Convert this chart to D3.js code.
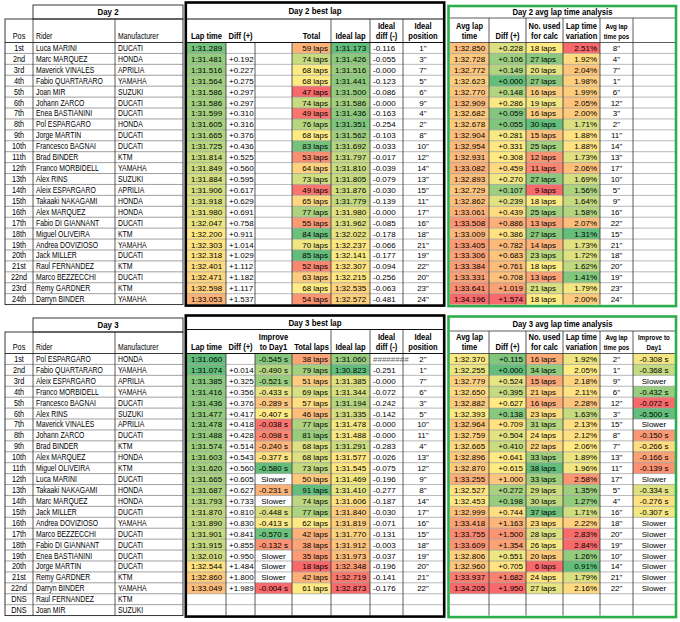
<!DOCTYPE html>
<html><head><meta charset="utf-8">
<script src="https://cdn.jsdelivr.net/npm/d3@7"></script>
<style>body{margin:0;background:#fff}svg{display:block}text{font-family:'Liberation Sans',Arial,sans-serif}</style>
</head><body><svg id="c" width="680" height="622"></svg>
<script>
// ---------------- DATA: Day 2 ----------------
const d2Pos = ["1st","2nd","3rd","4th","5th","6th","7th","8th","9th","10th","11th","12th","13th","14th","15th","16th","17th","18th","19th","20th","21st","22nd","23rd","24th"];
const d2Rider = ["Luca MARINI","Marc MARQUEZ","Maverick VINALES","Fabio QUARTARARO","Joan MIR","Johann ZARCO","Enea BASTIANINI","Pol ESPARGARO","Jorge MARTIN","Francesco BAGNAI","Brad BINDER","Franco MORBIDELL","Alex RINS","Aleix ESPARGARO","Takaaki NAKAGAMI","Alex MARQUEZ","Fabio DI GIANNANT","Miguel OLIVEIRA","Andrea DOVIZIOSO","Jack MILLER","Raul FERNANDEZ","Marco BEZZECCHI","Remy GARDNER","Darryn BINDER"];
const d2Manuf = ["DUCATI","HONDA","APRILIA","YAMAHA","SUZUKI","DUCATI","DUCATI","HONDA","DUCATI","DUCATI","KTM","YAMAHA","SUZUKI","APRILIA","HONDA","HONDA","DUCATI","KTM","YAMAHA","DUCATI","KTM","DUCATI","KTM","YAMAHA"];
const d2Lap = ["1:31.289","1:31.481","1:31.516","1:31.564","1:31.586","1:31.586","1:31.599","1:31.605","1:31.665","1:31.725","1:31.814","1:31.849","1:31.884","1:31.906","1:31.918","1:31.980","1:32.047","1:32.200","1:32.303","1:32.318","1:32.401","1:32.471","1:32.598","1:33.053"];
const d2Diff = ["","+0.192","+0.227","+0.275","+0.297","+0.297","+0.310","+0.316","+0.376","+0.436","+0.525","+0.560","+0.595","+0.617","+0.629","+0.691","+0.758","+0.911","+1.014","+1.029","+1.112","+1.182","+1.117","+1.537"];
const d2Total = [59,74,68,68,47,74,49,76,68,83,53,64,73,49,65,77,55,84,70,85,52,63,68,54];
const d2Ideal = ["1:31.173","1:31.426","1:31.516","1:31.441","1:31.500","1:31.586","1:31.436","1:31.351","1:31.562","1:31.692","1:31.797","1:31.810","1:31.805","1:31.876","1:31.779","1:31.980","1:31.962","1:32.022","1:32.237","1:32.141","1:32.307","1:32.215","1:32.535","1:32.572"];
const d2IdealDiff = ["-0.116","-0.055","-0.000","-0.123","-0.086","-0.000","-0.163","-0.254","-0.103","-0.033","-0.017","-0.039","-0.079","-0.030","-0.139","-0.000","-0.085","-0.178","-0.066","-0.177","-0.094","-0.256","-0.063","-0.481"];
const d2IdealPos = [1,3,7,5,6,9,4,2,8,10,12,14,13,15,11,17,16,18,21,19,22,20,23,24];
const d2Avg = ["1:32.850","1:32.728","1:32.772","1:32.623","1:32.770","1:32.909","1:32.682","1:32.678","1:32.904","1:32.954","1:32.931","1:33.082","1:32.893","1:32.729","1:32.862","1:33.061","1:33.508","1:33.009","1:33.405","1:33.306","1:33.384","1:33.331","1:33.641","1:34.196"];
const d2AvgDiff = [0.228,0.106,0.149,0.000,0.148,0.286,0.059,0.055,0.281,0.331,0.308,0.459,0.270,0.107,0.239,0.439,0.886,0.386,0.782,0.683,0.761,0.708,1.019,1.574];
const d2Used = [18,27,20,27,16,19,16,30,15,25,12,11,27,9,18,25,13,27,14,23,18,13,21,18];
const d2Var = [2.51,1.92,2.04,1.98,1.99,2.05,2.00,1.71,1.88,1.88,1.73,2.06,1.69,1.56,1.64,1.58,2.07,1.31,1.73,1.72,1.62,1.41,1.79,2.00];
const d2AvgPos = [8,4,7,1,6,12,3,2,11,14,13,17,10,5,9,16,22,15,21,18,20,19,23,24];

// ---------------- DATA: Day 3 ----------------
const d3Pos = ["1st","2nd","3rd","4th","5th","6th","7th","8th","9th","10th","11th","12th","13th","14th","15th","16th","17th","18th","19th","20th","21st","22nd","DNS","DNS"];
const d3Rider = ["Pol ESPARGARO","Fabio QUARTARARO","Aleix ESPARGARO","Franco MORBIDELL","Francesco BAGNAI","Alex RINS","Maverick VINALES","Johann ZARCO","Brad BINDER","Alex MARQUEZ","Miguel OLIVEIRA","Luca MARINI","Takaaki NAKAGAMI","Marc MARQUEZ","Jack MILLER","Andrea DOVIZIOSO","Marco BEZZECCHI","Fabio DI GIANNANT","Enea BASTIANINI","Jorge MARTIN","Remy GARDNER","Darryn BINDER","Raul FERNANDEZ","Joan MIR"];
const d3Manuf = ["HONDA","YAMAHA","APRILIA","YAMAHA","DUCATI","SUZUKI","APRILIA","DUCATI","KTM","HONDA","KTM","DUCATI","HONDA","HONDA","DUCATI","YAMAHA","DUCATI","DUCATI","DUCATI","DUCATI","KTM","YAMAHA","KTM","SUZUKI"];
const d3Lap = ["1:31.060","1:31.074","1:31.385","1:31.416","1:31.436","1:31.477","1:31.478","1:31.488","1:31.574","1:31.603","1:31.620","1:31.665","1:31.687","1:31.793","1:31.870","1:31.890","1:31.901","1:31.915","1:32.010","1:32.544","1:32.860","1:33.049"];
const d3Diff = ["","+0.014","+0.325","+0.356","+0.376","+0.417","+0.418","+0.428","+0.514","+0.543","+0.560","+0.605","+0.627","+0.733","+0.810","+0.830","+0.841","+0.855","+0.950","+1.484","+1.800","+1.989"];
const d3Improve = [-0.545,-0.490,-0.521,-0.433,-0.289,-0.407,-0.038,-0.098,-0.240,-0.377,-0.580,null,-0.231,null,-0.448,-0.413,-0.570,-0.132,null,null,null,-0.004];
const d3Total = [38,79,51,69,57,46,77,81,68,68,73,50,91,74,77,62,42,38,35,18,42,61];
const d3Ideal = ["1:31.060","1:30.823","1:31.385","1:31.344","1:31.194","1:31.335","1:31.478","1:31.488","1:31.291","1:31.577","1:31.545","1:31.469","1:31.410","1:31.606","1:31.840","1:31.819","1:31.770","1:31.912","1:31.973","1:32.348","1:32.719","1:32.873"];
const d3IdealDiff = ["########","-0.251","-0.000","-0.072","-0.242","-0.142","-0.000","-0.000","-0.283","-0.026","-0.075","-0.196","-0.277","-0.187","-0.030","-0.071","-0.131","-0.003","-0.037","-0.196","-0.141","-0.176"];
const d3IdealPos = [2,1,7,6,3,5,10,11,4,13,12,9,8,14,17,16,15,18,19,20,21,22];
const d3Avg = ["1:32.370","1:32.255","1:32.779","1:32.650","1:32.882","1:32.393","1:32.964","1:32.759","1:32.665","1:32.896","1:32.870","1:33.255","1:32.527","1:32.453","1:32.999","1:33.418","1:33.755","1:33.609","1:32.806","1:32.960","1:33.937","1:34.205"];
const d3AvgDiff = [0.115,0.000,0.524,0.395,0.627,0.138,0.709,0.504,0.410,0.641,0.615,1.000,0.272,0.198,0.744,1.163,1.500,1.354,0.551,0.705,1.682,1.950];
const d3Used = [16,34,15,21,16,23,31,24,22,33,38,33,29,30,37,23,28,26,20,6,24,27];
const d3Var = [1.92,2.05,2.18,2.11,2.28,1.63,2.13,2.12,2.06,1.89,1.96,2.58,1.35,1.27,1.71,2.22,2.83,2.84,1.26,0.91,1.79,2.16];
const d3AvgPos = [2,1,9,6,12,3,15,8,7,13,11,17,5,4,16,18,20,19,10,14,21,22];
const d3AvgImprove = [-0.308,-0.368,null,-0.432,-0.072,-0.500,null,-0.150,-0.266,-0.166,-0.139,null,-0.334,-0.276,-0.307,null,null,null,null,null,null,null];

// ---------------- HEADER LABELS ----------------
const leftHead = ["Pos","Rider","Manufacturer"];
const mid2Head = [["Lap time"],["Diff (+)"],[""],["Total"],["Ideal lap"],["Ideal","diff (-)"],["Ideal","position"]];
const mid3Head = [["Lap time"],["Diff (+)"],["Improve","to Day1"],["Total laps"],["Ideal lap"],["Ideal","diff (-)"],["Ideal","position"]];
const right2Head = [["Avg lap","time"],["Diff (+)"],["No. used","for calc"],["Lap time","variation"],["Avg lap","time pos"],[""]];
const right3Head = [["Avg lap","time"],["Diff (+)"],["No. used","for calc"],["Lap time","variation"],["Avg lap","time pos"],["Improve to","Day1"]];

// ---------------- STYLE ----------------
const GREEN = "#63BE7B", YELLOW = "#FFEB84", RED = "#F8696B";
const LEFT = [5, 33, 115, 183];
const MID = [187, 226, 255, 292, 331, 370, 403, 443];
const RIGHT = [450, 489, 526, 563, 600, 633, 675];
const FS = 8;

const toSec = s => { const p = s.split(":"); return +p[0] * 60 + +p[1]; };
function colorScale(vals, higherIsBetter) {
  const v = vals.filter(x => x != null);
  const [lo, hi] = d3.extent(v), med = d3.median(v);
  return d3.scaleLinear().domain([lo, med, hi])
    .range(higherIsBetter ? [RED, YELLOW, GREEN] : [GREEN, YELLOW, RED])
    .interpolate(d3.interpolateRgb).clamp(true);
}

const svg = d3.select("#c");

function section(S) {
  const g = svg.append("g");
  const y = d3.scaleBand().domain(d3.range(S.n)).range([S.rowTop, S.rowTop + S.n * S.rowH]);
  const yEnd = S.rowTop + S.n * S.rowH;

  function tbody(edges, cols, hStroke) {
    const gg = g.append("g");
    cols.forEach((c, ci) => {
      const x0 = edges[ci], x1 = edges[ci + 1];
      if (!c.values) return;
      const data = c.values.map((v, i) => ({ v, i }));
      if (c.color) {
        gg.selectAll(null).data(data.filter(d => d.v != null)).join("rect")
          .attr("x", x0).attr("y", d => y(d.i)).attr("width", x1 - x0).attr("height", y.bandwidth())
          .attr("fill", d => c.color(d.v));
      }
      const tx = c.align === "start" ? x0 + 3 : c.align === "end" ? x1 - (c.pad || 3) : (x0 + x1) / 2;
      const sx = c.sx || 1;
      gg.selectAll(null).data(data).join("text")
        .attr("transform", d => `translate(${tx},${y(d.i) + y.bandwidth() / 2 + 3}) scale(${sx},1)`)
        .attr("text-anchor", c.align).attr("font-size", c.fs || FS)
        .attr("fill", d => (c.fill ? c.fill(d.v) : "#000"))
        .text(d => c.fmt ? c.fmt(d.v) : d.v);
    });
    gg.selectAll(null).data(d3.range(1, S.n)).join("line")
      .attr("x1", edges[0]).attr("x2", edges[edges.length - 1])
      .attr("y1", i => y(i)).attr("y2", i => y(i))
      .attr("stroke", hStroke || "#9a9a9a").attr("stroke-width", 0.7);
    gg.selectAll(null).data(edges.slice(1, -1)).join("line")
      .attr("x1", d => d).attr("x2", d => d).attr("y1", S.rowTop).attr("y2", yEnd)
      .attr("stroke", "#333").attr("stroke-width", 0.8);
  }
  function line(x1, y1, x2, y2, stroke, w) {
    g.append("line").attr("x1", x1).attr("y1", y1).attr("x2", x2).attr("y2", y2)
      .attr("stroke", stroke || "#333").attr("stroke-width", w || 0.8);
  }
  function label(x, yy, t, opts) {
    opts = opts || {};
    g.append("text").attr("transform", `translate(${x},${yy}) scale(${opts.sx || 1},1)`)
      .attr("text-anchor", opts.anchor || "middle")
      .attr("font-size", opts.fs || FS).attr("font-weight", opts.bold ? "bold" : "normal").text(t);
  }
  function heads(edges, hdr, bold, smallFrom) {
    hdr.forEach((lines, i) => {
      const cx = (edges[i] + edges[i + 1]) / 2;
      const small = smallFrom != null && i >= smallFrom;
      const o = { bold, fs: small ? 7.6 : 8.6, sx: small ? 0.82 : 0.88 };
      if (lines.length === 1) label(cx, S.headBot - 3.5, lines[0], o);
      else { label(cx, S.headBot - 13.5, lines[0], o); label(cx, S.headBot - 3.5, lines[1], o); }
    });
  }

  // ---- LEFT TABLE ----
  const NS = { fs: 8.6, sx: 0.8 };
  tbody(LEFT, [
    { values: S.pos, align: "middle", fs: NS.fs, sx: 0.85 },
    { values: S.rider, align: "start", fs: NS.fs, sx: NS.sx },
    { values: S.manuf, align: "start", fs: NS.fs, sx: NS.sx }
  ], "#777");
  g.append("rect").attr("x", LEFT[1]).attr("y", S.leftTitleTop).attr("width", LEFT[3] - LEFT[1]).attr("height", S.leftTitleBot - S.leftTitleTop)
    .attr("fill", "none").attr("stroke", "#222").attr("stroke-width", 0.9);
  g.append("rect").attr("x", LEFT[0]).attr("y", S.leftTitleBot).attr("width", LEFT[3] - LEFT[0]).attr("height", yEnd - S.leftTitleBot)
    .attr("fill", "none").attr("stroke", "#222").attr("stroke-width", 0.9);
  line(LEFT[0], S.headBot, LEFT[3], S.headBot, "#222", 0.9);
  line(LEFT[1], S.leftTitleBot, LEFT[1], S.headBot);
  line(LEFT[2], S.leftTitleBot, LEFT[2], S.headBot);
  label((LEFT[1] + LEFT[3]) / 2, (S.leftTitleTop + S.leftTitleBot) / 2 + 3.2, S.leftTitle, { bold: true, fs: 9, sx: 0.88 });
  label((LEFT[0] + LEFT[1]) / 2, S.headBot - 3.5, leftHead[0], { fs: NS.fs, sx: 0.85 });
  label(LEFT[1] + 3, S.headBot - 3.5, leftHead[1], { anchor: "start", fs: NS.fs, sx: NS.sx });
  label(LEFT[2] + 3, S.headBot - 3.5, leftHead[2], { anchor: "start", fs: NS.fs, sx: NS.sx });

  // ---- MIDDLE TABLE ----
  const timeC = S.timeColor, idealC = S.idealColor;
  tbody(MID, [
    { values: S.lap, align: "middle", color: v => timeC(toSec(v)) },
    { values: S.diff, align: "start" },
    S.improve ? { values: S.improve, align: "middle", color: v => v == null ? null : S.improveColor(v), fmt: v => v == null ? "Slower" : v.toFixed(3) + " s" } : { values: null },
    { values: S.total, align: "end", color: colorScale(S.total, true), fmt: v => v + " laps" },
    { values: S.ideal, align: "middle", color: v => idealC(toSec(v)) },
    { values: S.idealDiff, align: "start", fill: v => v[0] === "#" ? "#666" : "#000" },
    { values: S.idealPos, align: "middle", fmt: v => v + "\"" }
  ]);
  line(MID[0], S.midTitleBot, MID[7], S.midTitleBot, "#111", 1);
  line(MID[0], S.headBot, MID[7], S.headBot, "#111", 1);
  S.midHeadLines.forEach(x => line(x, S.midTitleBot, x, S.headBot));
  label((MID[0] + MID[7]) / 2, (S.boxTop + S.midTitleBot) / 2 + 3.5, S.midTitle, { bold: true, fs: 9, sx: 0.88 });
  heads(MID, S.midHead, true);
  g.append("rect").attr("x", 185.8).attr("y", S.boxTop).attr("width", 258.4).attr("height", yEnd - S.boxTop + 1)
    .attr("fill", "none").attr("stroke", "#000").attr("stroke-width", 2.6);

  // ---- RIGHT TABLE ----
  tbody(RIGHT, [
    { values: S.avg, align: "middle", color: v => timeC(toSec(v)) },
    { values: S.avgDiff, align: "end", color: colorScale(S.avgDiff, false), fmt: v => "+" + v.toFixed(3) },
    { values: S.used, align: "end", pad: 7, color: colorScale(S.used, true), fmt: v => v + " laps" },
    { values: S.vari, align: "end", color: colorScale(S.vari, false), fmt: v => v.toFixed(2) + "%" },
    { values: S.avgPos, align: "middle", fmt: v => v + "\"" },
    S.avgImprove ? { values: S.avgImprove, align: "middle", color: v => v == null ? null : S.avgImproveColor(v), fmt: v => v == null ? "Slower" : v.toFixed(3) + " s" } : { values: null }
  ]);
  line(RIGHT[0], S.rightTitleBot, RIGHT[6], S.rightTitleBot, "#333", 0.8);
  line(RIGHT[0], S.headBot, RIGHT[6], S.headBot, "#333", 0.8);
  RIGHT.slice(1, -1).forEach(x => line(x, S.rightTitleBot, x, S.headBot));
  label((RIGHT[0] + RIGHT[6]) / 2, (S.rightTop + S.rightTitleBot) / 2 + 3, S.rightTitle, { bold: true, fs: 8.8, sx: 0.88 });
  heads(RIGHT, S.rightHead, true, 4);
  g.append("rect").attr("x", 448.5).attr("y", S.rightTop).attr("width", 227.5).attr("height", yEnd - S.rightTop + 1.5)
    .attr("fill", "none").attr("stroke", "#2DAE4C").attr("stroke-width", 2.6);
}

// Day 2 : lap, ideal and average share a colour scale
const d2TimeScale = colorScale(d2Lap.concat(d2Ideal, d2Avg).map(toSec), false);
section({
  n: 24, rowTop: 42.5, rowH: 10.92, headBot: 42.5,
  boxTop: 2.5, midTitleBot: 19, rightTop: 6, rightTitleBot: 18, leftTitleTop: 5, leftTitleBot: 19,
  leftTitle: "Day 2", midTitle: "Day 2 best lap", rightTitle: "Day 2 avg lap time analysis",
  midHead: mid2Head, rightHead: right2Head, midHeadLines: [MID[4], MID[5], MID[6]],
  pos: d2Pos, rider: d2Rider, manuf: d2Manuf,
  lap: d2Lap, diff: d2Diff, improve: null, total: d2Total, ideal: d2Ideal, idealDiff: d2IdealDiff, idealPos: d2IdealPos,
  avg: d2Avg, avgDiff: d2AvgDiff, used: d2Used, vari: d2Var, avgPos: d2AvgPos, avgImprove: null,
  timeColor: d2TimeScale, idealColor: d2TimeScale
});

// Day 3 : lap and average share a scale, ideal lap has its own
const d3TimeScale = colorScale(d3Lap.concat(d3Avg).map(toSec), false);
section({
  n: 24, rowTop: 353.5, rowH: 10.92, headBot: 353.5,
  boxTop: 315.5, midTitleBot: 329.5, rightTop: 316.5, rightTitleBot: 331, leftTitleTop: 318, leftTitleBot: 332,
  leftTitle: "Day 3", midTitle: "Day 3 best lap", rightTitle: "Day 3 avg lap time analysis",
  midHead: mid3Head, rightHead: right3Head, midHeadLines: [MID[4], MID[5], MID[6]],
  pos: d3Pos, rider: d3Rider, manuf: d3Manuf,
  lap: d3Lap, diff: d3Diff, improve: d3Improve, improveColor: colorScale(d3Improve, false),
  total: d3Total, ideal: d3Ideal, idealDiff: d3IdealDiff, idealPos: d3IdealPos,
  avg: d3Avg, avgDiff: d3AvgDiff, used: d3Used, vari: d3Var, avgPos: d3AvgPos,
  avgImprove: d3AvgImprove, avgImproveColor: colorScale(d3AvgImprove, false),
  timeColor: d3TimeScale, idealColor: colorScale(d3Ideal.map(toSec), false)
});
</script></body></html>
